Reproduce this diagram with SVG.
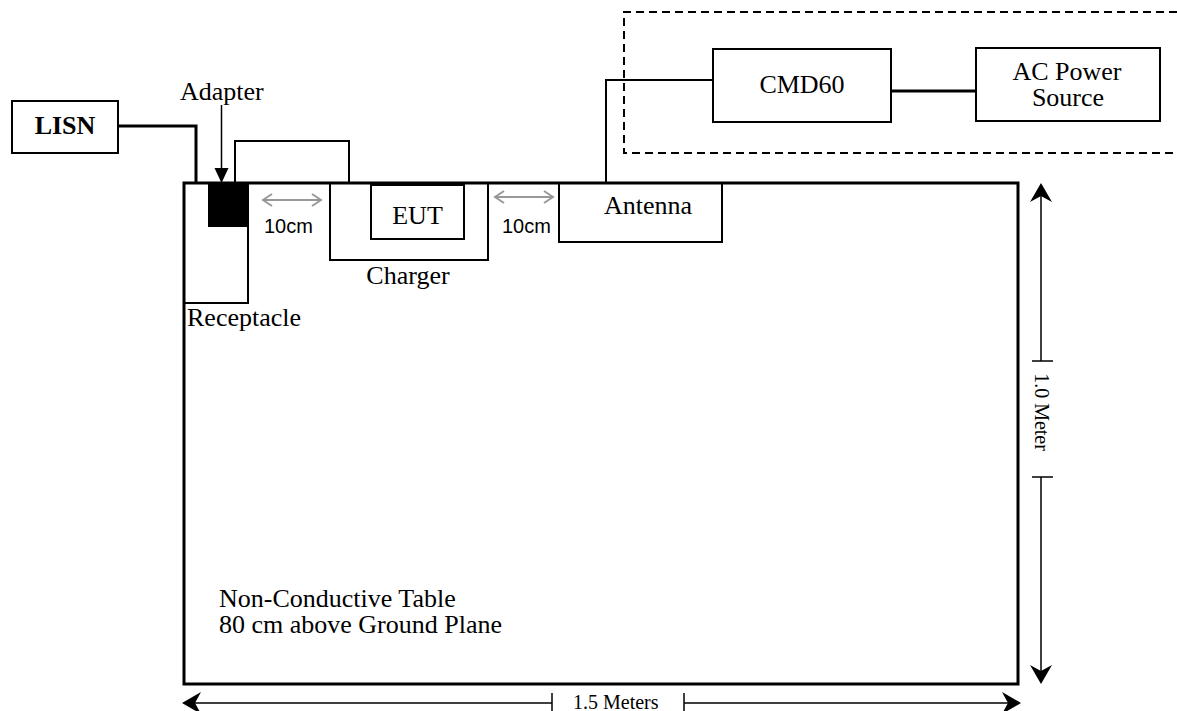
<svg xmlns="http://www.w3.org/2000/svg" width="1177" height="711" viewBox="0 0 1177 711">
<defs>
<style>
.box{fill:none;stroke:#000;stroke-width:2}
.t{font-family:"Liberation Serif","Times New Roman",serif;font-size:26px;fill:#000}
.s{font-family:"Liberation Sans",Arial,sans-serif;font-size:20px;fill:#000}
.d{font-family:"Liberation Serif","Times New Roman",serif;font-size:20px;fill:#000}
.w{fill:none;stroke:#000;stroke-width:2}
.wt{fill:none;stroke:#000;stroke-width:3}
.dim{fill:none;stroke:#000;stroke-width:1.5}
.g{fill:none;stroke:#999;stroke-width:2}
.ah{fill:#000;stroke:none}
</style>
</defs>
<rect width="1177" height="711" fill="#fff"/>
<g id="table">
<rect x="184" y="183" width="834" height="501" fill="none" stroke="#000" stroke-width="3"/>
<text class="t" x="219" y="607">Non-Conductive Table</text>
<text class="t" x="219" y="633">80 cm above Ground Plane</text>
</g>
<g id="lisn">
<rect class="box" x="12" y="101" width="106" height="52"/>
<text class="t" x="65" y="134" text-anchor="middle" font-weight="bold">LISN</text>
</g>
<g id="receptacle">
<rect class="box" x="184" y="183" width="64" height="120"/>
<text class="t" x="187" y="326">Receptacle</text>
</g>
<g id="adapter">
<rect x="208" y="183" width="39" height="44" fill="#000"/>
<text class="t" x="180" y="100">Adapter</text>
<line x1="221.5" y1="105" x2="221.5" y2="170" stroke="#000" stroke-width="1.5"/>
<polygon class="ah" points="214.5,168 228.5,168 221.5,183"/>
</g>
<g id="charger">
<rect class="box" x="330" y="183" width="158" height="77"/>
<text class="t" x="408" y="284" text-anchor="middle">Charger</text>
</g>
<g id="eut">
<rect class="box" x="371" y="185" width="93" height="54"/>
<text class="t" x="417.5" y="224" text-anchor="middle">EUT</text>
</g>
<g id="antenna">
<rect class="box" x="559" y="183" width="163" height="59"/>
<text class="t" x="648" y="214" text-anchor="middle" font-size="28">Antenna</text>
</g>
<g id="cmd60">
<rect class="box" x="713" y="49" width="178" height="73"/>
<text class="t" x="802" y="93" text-anchor="middle">CMD60</text>
</g>
<g id="acpower">
<rect class="box" x="976" y="48" width="184" height="73"/>
<text class="t" x="1067" y="80" text-anchor="middle">AC Power</text>
<text class="t" x="1068" y="106" text-anchor="middle">Source</text>
</g>
<g id="enclosure">
<path d="M1177,12 H624 V153 H1177" fill="none" stroke="#000" stroke-width="2" stroke-dasharray="8,5"/>
</g>
<g id="connectors">
<path class="wt" d="M118,126 H196 V183"/>
<path class="w" d="M235,183 V141 H349 V183"/>
<path class="w" d="M606,183 V80 H713"/>
<path class="wt" d="M891,91 H976"/>
<line class="g" x1="263" y1="200" x2="321" y2="200"/>
<polyline class="g" points="272,194 263,200 272,206"/>
<polyline class="g" points="312,194 321,200 312,206"/>
<text class="s" x="264" y="233">10cm</text>
<line class="g" x1="495" y1="197" x2="553" y2="197"/>
<polyline class="g" points="504,191 495,197 504,203"/>
<polyline class="g" points="544,191 553,197 544,203"/>
<text class="s" x="502" y="233">10cm</text>
</g>
<g id="dim-height">
<line class="dim" x1="1041" y1="195" x2="1041" y2="361"/>
<line class="dim" x1="1032" y1="361" x2="1053" y2="361"/>
<line class="dim" x1="1032" y1="477" x2="1053" y2="477"/>
<line class="dim" x1="1041" y1="477" x2="1041" y2="672"/>
<path class="ah" d="M1041,183 L1052,202 L1041,196 L1030,202 Z"/>
<path class="ah" d="M1041,684 L1052,665 L1041,671 L1030,665 Z"/>
<text class="d" transform="translate(1035,412) rotate(90)" text-anchor="middle">1.0 Meter</text>
</g>
<g id="dim-width">
<line class="dim" x1="194" y1="703" x2="552" y2="703"/>
<line class="dim" x1="552" y1="693" x2="552" y2="713"/>
<line class="dim" x1="684" y1="693" x2="684" y2="713"/>
<line class="dim" x1="684" y1="703" x2="1010" y2="703"/>
<path class="ah" d="M182,703 L201,692 L195,703 L201,714 Z"/>
<path class="ah" d="M1021,703 L1002,692 L1008,703 L1002,714 Z"/>
<text class="d" x="573" y="709">1.5 Meters</text>
</g>
</svg>
